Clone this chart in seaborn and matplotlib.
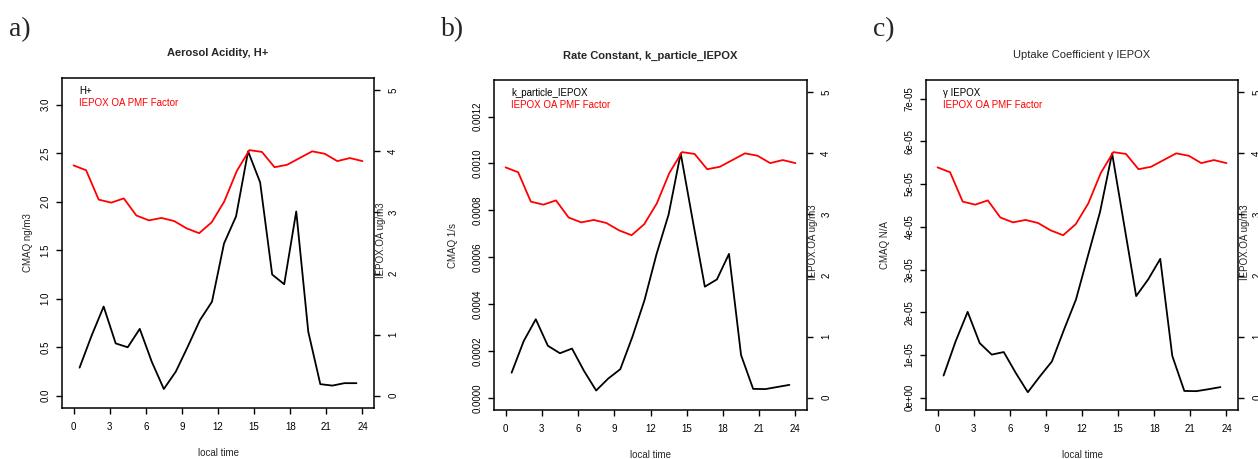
import matplotlib
matplotlib.use("Agg")
import matplotlib.pyplot as plt
import seaborn as sns

# ---------------- data ----------------
cmaq_hours = [0.5, 1.5, 2.5, 3.5, 4.5, 5.5, 6.5, 7.5, 8.5, 9.5, 10.5, 11.5,
              12.5, 13.5, 14.5, 15.5, 16.5, 17.5, 18.5, 19.5, 20.5, 21.5, 22.5, 23.5]
pmf_index = [1, 2, 3, 4, 5, 6, 7, 8, 9, 10, 11, 12,
             13, 14, 15, 16, 17, 18, 19, 20, 21, 22, 23, 24]

h_plus = [0.29, 0.62, 0.92, 0.54, 0.50, 0.69, 0.35, 0.07, 0.25, 0.51, 0.78, 0.97,
          1.57, 1.85, 2.52, 2.20, 1.25, 1.15, 1.90, 0.66, 0.12, 0.105, 0.13, 0.13]
k_particle = [1.07e-4, 2.42e-4, 3.35e-4, 2.22e-4, 1.90e-4, 2.10e-4, 1.14e-4, 0.31e-4,
              0.82e-4, 1.22e-4, 2.60e-4, 4.16e-4, 6.13e-4, 7.82e-4, 10.43e-4, 7.56e-4,
              4.74e-4, 5.05e-4, 6.14e-4, 1.82e-4, 0.38e-4, 0.37e-4, 0.46e-4, 0.55e-4]
gamma_iepox = [0.52e-5, 1.32e-5, 2.01e-5, 1.28e-5, 1.01e-5, 1.07e-5, 0.58e-5, 0.13e-5,
               0.50e-5, 0.85e-5, 1.59e-5, 2.30e-5, 3.33e-5, 4.35e-5, 5.72e-5, 4.05e-5,
               2.38e-5, 2.77e-5, 3.25e-5, 0.98e-5, 0.16e-5, 0.155e-5, 0.20e-5, 0.25e-5]
iepox_oa = [3.77, 3.69, 3.21, 3.16, 3.23, 2.95, 2.87, 2.91, 2.86, 2.74, 2.66, 2.84,
            3.18, 3.68, 4.02, 3.99, 3.74, 3.78, 3.89, 4.00, 3.96, 3.84, 3.89, 3.84]

x_ticks = [0, 3, 6, 9, 12, 15, 18, 21, 24]
right_ticks = [0, 1, 2, 3, 4, 5]
a_yticks = [0.0, 0.5, 1.0, 1.5, 2.0, 2.5, 3.0]
a_yticklabels = ["0.0", "0.5", "1.0", "1.5", "2.0", "2.5", "3.0"]
b_yticks = [0.0, 0.0002, 0.0004, 0.0006, 0.0008, 0.0010, 0.0012]
b_yticklabels = ["0.0000", "0.0002", "0.0004", "0.0006", "0.0008", "0.0010", "0.0012"]
c_yticks = [0, 1e-5, 2e-5, 3e-5, 4e-5, 5e-5, 6e-5, 7e-5]
c_yticklabels = ["0e+00", "1e-05", "2e-05", "3e-05", "4e-05", "5e-05", "6e-05", "7e-05"]

titles = ["Aerosol Acidity, H+", "Rate Constant, k_particle_IEPOX", "Uptake Coefficient \u03b3 IEPOX"]
series_names = ["H+", "k_particle_IEPOX", "\u03b3 IEPOX"]
ylabels = ["CMAQ ng/m3", "CMAQ 1/s", "CMAQ N/A"]
letters = ["a)", "b)", "c)"]
pmf_label = "IEPOX OA PMF Factor"
right_label = "IEPOX.OA ug/m3"
xlabel = "local time"

# ---------------- style / layout ----------------
sns.set_style("white")
plt.rcParams['font.family'] = ['Liberation Sans', 'DejaVu Sans']

W, H = 1258, 459
fig = plt.figure(figsize=(W / 100, H / 100), dpi=100)

def rect(l, t, r, b):
    return [l / W, 1 - b / H, (r - l) / W, (b - t) / H]

panels = [
    dict(box=(62, 78, 374, 408), y=h_plus, yt=a_yticks, ytl=a_yticklabels, bold=True,
         letter_x=9, ylabel_x=28, title_y=56.5),
    dict(box=(494, 80, 807, 410), y=k_particle, yt=b_yticks, ytl=b_yticklabels, bold=True,
         letter_x=441, ylabel_x=453, title_y=58.5),
    dict(box=(926, 80, 1238, 410), y=gamma_iepox, yt=c_yticks, ytl=c_yticklabels, bold=False,
         letter_x=873, ylabel_x=885, title_y=57.5),
]

LW = 1.3
TL = 4.3  # tick length in points (~6 px)

for i, p in enumerate(panels):
    l, t, r, b = p["box"]
    ax = fig.add_axes(rect(l, t, r, b))
    sns.lineplot(x=cmaq_hours, y=p["y"], ax=ax, color="black", linewidth=LW)
    ax.set_xlim(-0.96, 24.96)
    ymax = 1.25 * max(p["y"])
    ax.set_ylim(-0.04 * ymax, 1.04 * ymax)
    ax.set_xticks(x_ticks)
    ax.set_xticklabels([str(v) for v in x_ticks])
    ax.set_yticks(p["yt"])
    ax.set_yticklabels(p["ytl"], rotation=90, va="center")
    ax.tick_params(axis="both", direction="out", length=TL, width=1.0,
                   labelsize=7, colors="black", left=True, bottom=True)
    ax.tick_params(axis="x", pad=6)
    ax.tick_params(axis="y", pad=4)
    for s in ax.spines.values():
        s.set_visible(True)
        s.set_color("black")
        s.set_linewidth(1.1)
    ax.set_xlabel("")
    ax.set_ylabel("")

    # legend text
    ax.text(17 / (r - l), 1 - 13 / (b - t), series_names[i], transform=ax.transAxes,
            ha="left", va="center", fontsize=7, color="black")
    ax.text(17 / (r - l), 1 - 25.5 / (b - t), pmf_label, transform=ax.transAxes,
            ha="left", va="center", fontsize=7, color="red")

    # overlay axes for PMF factor
    ax2 = fig.add_axes(rect(l, t, r, b))
    ax2.patch.set_visible(False)
    sns.lineplot(x=pmf_index, y=iepox_oa, ax=ax2, color="red", linewidth=LW)
    ax2.set_xlim(1 - 0.92, 24 + 0.92)
    ax2.set_ylim(-0.2, 5.2)
    for s in ax2.spines.values():
        s.set_visible(False)
    ax2.set_xticks([])
    ax2.yaxis.tick_right()
    ax2.set_yticks(right_ticks)
    ax2.set_yticklabels([str(v) for v in right_ticks], rotation=90, va="center")
    ax2.tick_params(axis="y", direction="out", length=TL, width=1.0, labelsize=7,
                    pad=6, right=True, left=False, colors="black")
    ax2.set_xlabel("")
    ax2.set_ylabel("")

    cx = (l + r) / 2
    cy = (t + b) / 2
    fig.text(cx / W, 1 - p["title_y"] / H, titles[i], ha="center", va="baseline",
             fontsize=8, fontweight="bold" if p["bold"] else "normal")
    fig.text(cx / W, 1 - (b + 45) / H, xlabel, ha="center", va="center", fontsize=7)
    fig.text(p["ylabel_x"] / W, 1 - cy / H, ylabels[i], ha="center", va="center",
             rotation=90, fontsize=7)
    fig.text((r + 6.5) / W, 1 - (cy - 3) / H, right_label, ha="center", va="center",
             rotation=90, fontsize=7)
    fig.text(p["letter_x"] / W, 1 - 36 / H, letters[i], ha="left", va="baseline",
             fontsize=20, family=["Liberation Serif", "DejaVu Serif"])

fig.savefig("out.png", dpi=100)
